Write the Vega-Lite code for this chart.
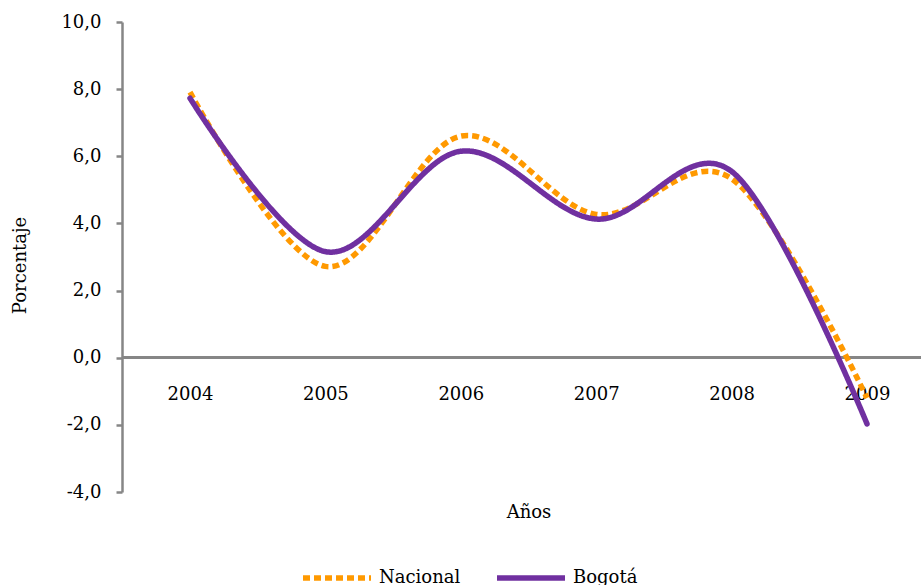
{
  "$schema": "https://vega.github.io/schema/vega-lite/v6.json",
  "width": 799,
  "height": 470,
  "autosize": "none",
  "padding": {"left": 122, "top": 22, "right": 0, "bottom": 93},
  "background": "white",
  "config": {
    "view": {"stroke": null},
    "font": "DejaVu Serif",
    "axis": {"labelFont": "DejaVu Serif", "titleFont": "DejaVu Serif", "labelColor": "#000000", "titleColor": "#000000", "labelFontSize": 18, "titleFontSize": 18, "titleFontWeight": "normal", "grid": false}
  },
  "data": {
    "values": [
      {"serie": "Nacional", "anio": "2004", "valor": 7.91},
      {"serie": "Nacional", "anio": "2005", "valor": 2.72},
      {"serie": "Nacional", "anio": "2006", "valor": 6.6},
      {"serie": "Nacional", "anio": "2007", "valor": 4.27},
      {"serie": "Nacional", "anio": "2008", "valor": 5.33},
      {"serie": "Nacional", "anio": "2009", "valor": -1.2},
      {"serie": "Bogotá", "anio": "2004", "valor": 7.73},
      {"serie": "Bogotá", "anio": "2005", "valor": 3.16},
      {"serie": "Bogotá", "anio": "2006", "valor": 6.15},
      {"serie": "Bogotá", "anio": "2007", "valor": 4.13},
      {"serie": "Bogotá", "anio": "2008", "valor": 5.55},
      {"serie": "Bogotá", "anio": "2009", "valor": -1.97}
    ]
  },
  "encoding": {
    "x": {
      "field": "anio", "type": "ordinal",
      "scale": {"type": "point", "range": [68, 745], "padding": 0},
      "axis": {"orient": "bottom", "offset": -134, "domain": false, "ticks": false, "tickSize": 0, "labelPadding": 36, "labelBaseline": "middle", "labelAngle": 0, "title": "Años", "titleY": 154, "titleBaseline": "middle"}
    },
    "y": {
      "field": "valor", "type": "quantitative",
      "scale": {"domain": [-4, 10], "nice": false, "zero": false},
      "axis": {"values": [-4, -2, 0, 2, 4, 6, 8, 10], "labelExpr": "replace(replace(format(datum.value, '.1f'), '.', ','), '\u2212', '-')", "domainColor": "#868686", "domainWidth": 2.5, "tickColor": "#868686", "tickWidth": 2.5, "tickSize": 6, "labelPadding": 15, "title": "Porcentaje", "titleX": -102, "titleY": 243, "titleBaseline": "middle", "titleAngle": -90}
    }
  },
  "layer": [
    {
      "mark": {"type": "rule", "color": "#868686", "strokeWidth": 2.5},
      "encoding": {"y": {"datum": 0}, "x": null}
    },
    {
      "transform": [{"filter": "datum.serie === 'Nacional'"}],
      "mark": {"type": "line", "interpolate": "cardinal", "tension": 0, "strokeWidth": 5.5, "strokeCap": "butt"},
      "encoding": {
        "color": {"field": "serie", "type": "nominal", "scale": {"domain": ["Nacional", "Bogotá"], "range": ["#FF9900", "#7030A0"]}, "legend": {"orient": "none", "legendX": 178, "legendY": 519, "direction": "horizontal", "title": null, "symbolType": "stroke", "symbolSize": 4624, "symbolStrokeWidth": 5.5, "labelFont": "DejaVu Serif", "labelFontSize": 18, "labelColor": "#000000", "labelOffset": 5, "columnPadding": 25, "padding": 0}},
        "strokeDash": {"field": "serie", "type": "nominal", "scale": {"domain": ["Nacional", "Bogotá"], "range": [[7, 4], [1, 0]]}, "legend": {"orient": "none", "legendX": 178, "legendY": 519, "direction": "horizontal", "title": null, "symbolType": "stroke", "symbolSize": 4624, "symbolStrokeWidth": 5.5, "labelFont": "DejaVu Serif", "labelFontSize": 18, "labelColor": "#000000", "labelOffset": 5, "columnPadding": 25, "padding": 0}}
      }
    },
    {
      "transform": [{"filter": "datum.serie === 'Bogotá'"}],
      "mark": {"type": "line", "interpolate": "cardinal", "tension": 0, "strokeWidth": 5.5, "strokeCap": "round"},
      "encoding": {
        "color": {"field": "serie", "type": "nominal"},
        "strokeDash": {"field": "serie", "type": "nominal"}
      }
    }
  ]
}
